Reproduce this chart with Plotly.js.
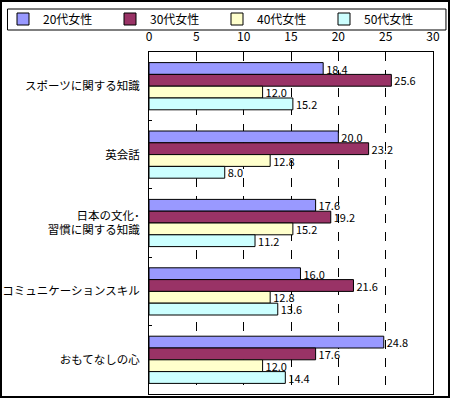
<!DOCTYPE html>
<html><head><meta charset="utf-8">
<script src="https://cdn.plot.ly/plotly-3.0.1.min.js"></script>
<style>
html,body{margin:0;padding:0;background:#fff;}
#chart{width:450px;height:398px;box-sizing:border-box;border:2px solid #000;}
</style></head>
<body><div id="chart"></div>
<script>
const categories = ["スポーツに関する知識", "英会話", "日本の文化･<br>習慣に関する知識", "コミュニケーションスキル", "おもてなしの心"];
const seriesNames = ["20代女性", "30代女性", "40代女性", "50代女性"];
const v20 = [18.4, 20.0, 17.6, 16.0, 24.8];
const v30 = [25.6, 23.2, 19.2, 21.6, 17.6];
const v40 = [12.0, 12.8, 15.2, 12.8, 12.0];
const v50 = [15.2, 8.0, 11.2, 13.6, 14.4];
const xTicks = [0, 5, 10, 15, 20, 25, 30];

const colors = ["#9999FF", "#993366", "#FFFFCC", "#CCFFFF"];
const font = "'Noto Sans CJK JP', 'Noto Sans', sans-serif";
const values = [v20, v30, v40, v50];

const traces = values.map((vals, i) => ({
  type: "bar",
  orientation: "h",
  name: seriesNames[i],
  y: categories,
  x: vals,
  text: vals.map(v => v.toFixed(1)),
  textposition: "outside",
  constraintext: "none",
  cliponaxis: false,
  textfont: {family: font, size: 11, color: "#000"},
  marker: {color: colors[i], line: {color: "#000", width: 1}},
  hoverinfo: "x+name"
}));

const W = 446, H = 394;
const M = {l: 146, r: 15, t: 50, b: 2};
const pw = W - M.l - M.r, ph = H - M.t - M.b;
// convert div pixel coords to paper coords
const px = v => (v - M.l) / pw;
const py = v => 1 + (M.t - v) / ph;

const layout = {
  width: W, height: H,
  margin: M,
  paper_bgcolor: "#fff",
  plot_bgcolor: "#fff",
  barmode: "group",
  bargap: 0.31,
  bargroupgap: 0,
  font: {family: font, size: 12, color: "#000"},
  showlegend: true,
  legend: {
    orientation: "h",
    x: px(1), y: py(2.5),
    xanchor: "left", yanchor: "top",
    entrywidth: 62, entrywidthmode: "pixels",
    bgcolor: "rgba(0,0,0,0)",
    borderwidth: 0,
    font: {family: font, size: 12, color: "#000"},
    traceorder: "normal"
  },
  shapes: [{
    type: "rect", xref: "paper", yref: "paper",
    x0: px(4), x1: px(444), y0: py(28), y1: py(7),
    line: {color: "#000", width: 1}, fillcolor: "rgba(0,0,0,0)", layer: "above"
  }],
  xaxis: {
    side: "top",
    automargin: false,
    range: [-0.001, 30.001],
    tickvals: xTicks,
    ticktext: xTicks.map(String),
    showgrid: true,
    gridcolor: "#000",
    griddash: "dash",
    gridwidth: 1,
    zeroline: false,
    showline: true, linecolor: "#000", linewidth: 1, mirror: true,
    ticks: "",
    ticklabelstandoff: 5,
    tickfont: {family: font, size: 12, color: "#000"},
    fixedrange: true
  },
  yaxis: {
    autorange: "reversed",
    automargin: false,
    type: "category",
    showgrid: false,
    zeroline: false,
    showline: true, linecolor: "#000", linewidth: 1, mirror: true,
    ticks: "inside", ticklen: 3, tickcolor: "#000",
    tickson: "boundaries",
    ticklabelstandoff: 6,
    tickfont: {family: font, size: 11.5, color: "#000"},
    fixedrange: true
  }
};

Plotly.newPlot("chart", traces, layout, {displayModeBar: false, staticPlot: true});
</script>
</body></html>
